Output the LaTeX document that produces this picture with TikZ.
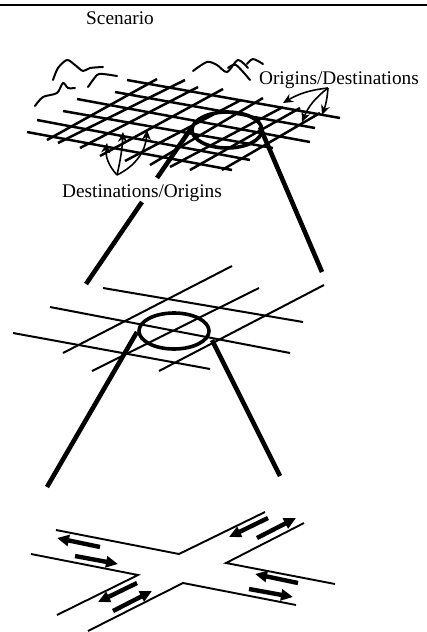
\documentclass[tikz,border=0pt]{standalone}
\usepackage{fontspec}
\setmainfont{Liberation Serif}
\usetikzlibrary{arrows.meta}
\tikzset{
  lbl/.style={font=\fontsize{19.3}{22}\selectfont,inner sep=0pt,text=black},
  gridline/.style={line width=2.5pt},
  midline/.style={line width=2pt},
  road/.style={line width=1.9pt,line join=miter},
  thick leg/.style={line width=4.6pt},
  ring/.style={line width=3.6pt},
  squiggle/.style={line width=2pt,line cap=round},
  flow/.style={line width=4.4pt,-{Triangle[length=12pt,width=11pt]}},
  note/.style={line width=1.6pt,-{Stealth[length=10pt,width=9pt]}}
}
\begin{document}
\begin{tikzpicture}[x=1pt,y=-1pt]
\useasboundingbox (0,0) rectangle (427,632);
\draw[line width=1.5pt] (0,5) -- (427,5);
\node[lbl] (title) at (120,18) {Scenario};
\node[lbl] (od) at (339,80) {Origins/Destinations};
\node[lbl] (do) at (142,193) {Destinations/Origins};
% squiggles
\draw[squiggle] plot[smooth] coordinates {(53,80) (58,68) (67,60) (75,65) (83,71) (90,68) (103,67)};
\draw[squiggle] plot[smooth] coordinates {(88,87) (97,75) (103,74) (117,76)};
\draw[squiggle] plot[smooth] coordinates {(35,106) (43,97) (57,93) (63,83) (68,88) (75,88)};
\draw[squiggle] plot[smooth] coordinates {(193,71) (207,62) (217,65) (227,72) (238,60) (248,68)};
\draw[squiggle] plot[smooth] coordinates {(228,68) (236,65) (250,80)};
\draw[squiggle] plot[smooth] coordinates {(247,64) (253,59) (263,64)};
% top grid
\foreach \a/\b/\c/\d in {127/80/340/118,115/92/315/128,77/99/310/142,63/111/273/148,37/120/250/160,27/132/232/170}
  \draw[gridline] (\a,\b) -- (\c,\d);
\foreach \a/\b/\c/\d in {47/140/157/79,58/143/185/80,80/148/198/87,100/156/223/89,125/161/241/100,150/165/263/98,170/167/283/107,190/170/300/108,222/170/320/113}
  \draw[gridline] (\a,\b) -- (\c,\d);
\draw[ring] (227,130) ellipse [x radius=35,y radius=18];
\draw[thick leg] (192,127) -- (157,178);
\draw[thick leg] (142,202) -- (86,284);
\draw[thick leg] (260,127) -- (322,272);
% notes
\draw[note] (328,88) to[bend right=12] (283,103);
\draw[note] (328,88) to[bend left=8] (322,115);
\draw[note] (328,88) to[bend right=15] (302,122);
\draw[note] (117,175) to[bend left=25] (107,143);
\draw[note] (117,175) to[bend right=5] (123,132);
\draw[note] (117,175) to[bend right=30] (147,130);
% middle grid
\foreach \a/\b/\c/\d in {103/288/303/322,50/307/290/353,13/333/210/369,63/353/232/266,92/371/259/288,159/371/324/285}
  \draw[midline] (\a,\b) -- (\c,\d);
\draw[ring] (174,331) ellipse [x radius=35,y radius=18];
\draw[thick leg] (137,332) -- (47,487);
\draw[thick leg] (212,340) -- (280,476);
% bottom junction
\draw[road] (56,530) -- (179,554) -- (265,512);
\draw[road] (304,523) -- (226,563) -- (335,584);
\draw[road] (296,605) -- (183,583) -- (88,631);
\draw[road] (57,615) -- (138,575) -- (31,554);
\draw[flow] (100,547) -- (57,538);
\draw[flow] (75,556) -- (118,564);
\draw[flow] (268,518) -- (229,537);
\draw[flow] (257,538) -- (296,518);
\draw[flow] (298,583) -- (255,574);
\draw[flow] (249,589) -- (293,597);
\draw[flow] (137,583) -- (98,602);
\draw[flow] (113,611) -- (152,591);
\end{tikzpicture}
\end{document}
